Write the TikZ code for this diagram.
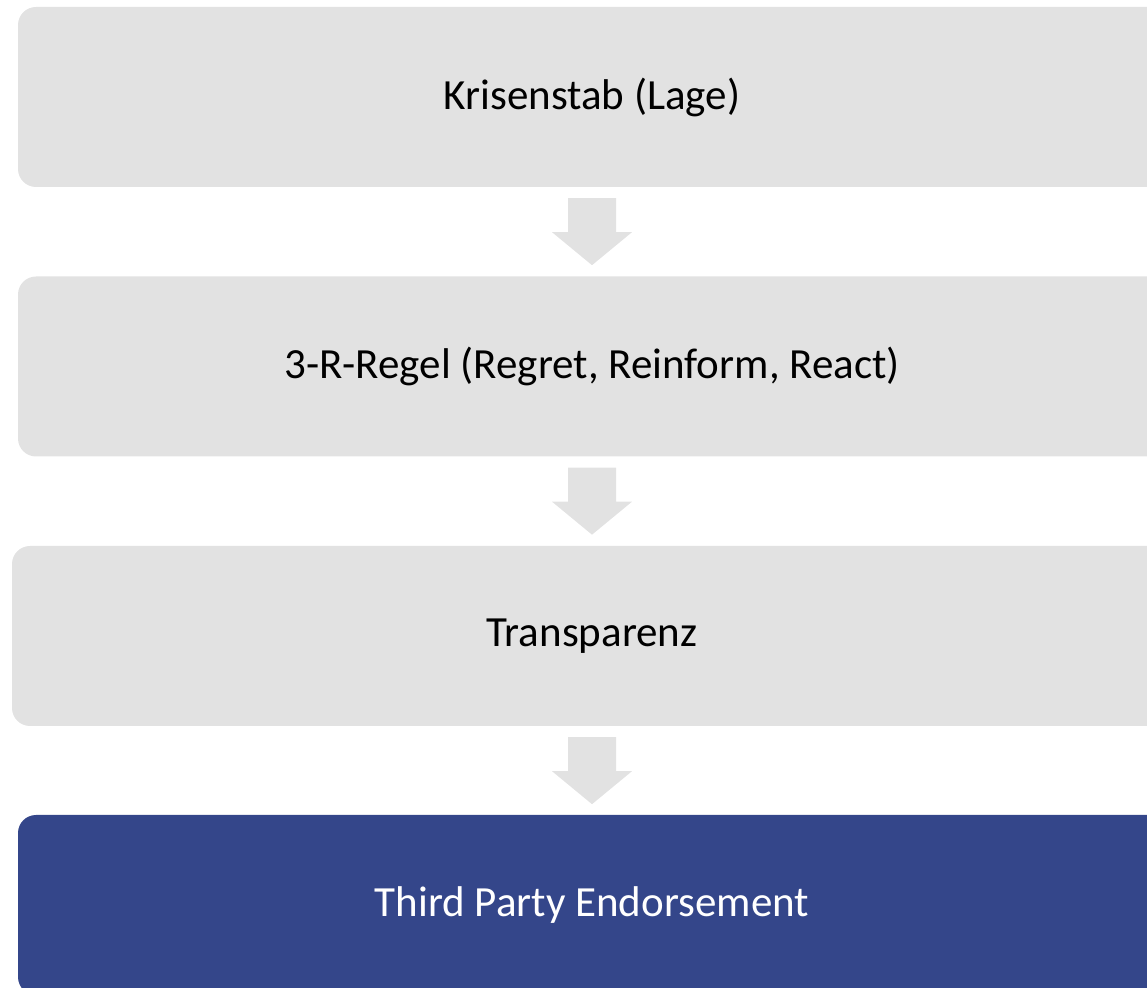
\documentclass[tikz,border=0pt]{standalone}
\usepackage{fontspec}
\setmainfont{Carlito}
\usetikzlibrary{calc}
\definecolor{boxgray}{HTML}{E2E2E2}
\definecolor{boxblue}{HTML}{34468A}
\tikzset{
  x=1pt, y=1pt,
  stage/.style={rectangle, rounded corners=18pt, minimum width=1148pt,
    minimum height=180pt, inner sep=0pt, fill=boxgray, text=black,
    font=\fontsize{43}{50}\selectfont},
  laststage/.style={stage, fill=boxblue, text=white},
  flowarrow/.style={fill=boxgray, draw=none}
}
% block arrow hanging below node #1
\newcommand{\flowdown}[1]{%
  \fill[flowarrow] ($(#1.south)+(-24,-11)$) -- ++(48,0) -- ++(0,-34)
    -- ++(16,0) -- ++(-40,-33) -- ++(-40,33) -- ++(16,0) -- cycle;}
\begin{document}
\begin{tikzpicture}
\useasboundingbox (0,0) rectangle (1147,987);
\clip (0,0) rectangle (1147,987);
\node[stage] (b1) at (592,890) {Krisenstab (Lage)};
\node[stage] (b2) at (592,620.5) {3-R-Regel (Regret, Reinform, React)};
\node[stage, minimum width=1160pt] (b3) at (592,351) {Transparenz};
\node[laststage] (b4) at (592,82) {Third Party Endorsement};
\flowdown{b1}
\flowdown{b2}
\flowdown{b3}
\end{tikzpicture}
\end{document}
